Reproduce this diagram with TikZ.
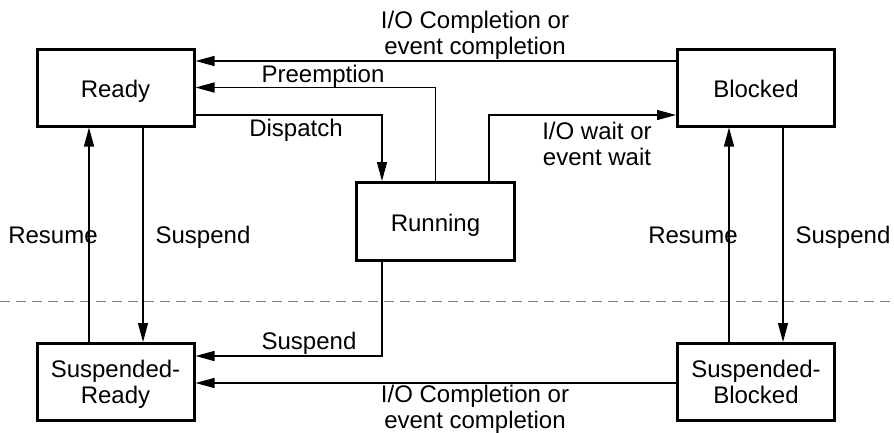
\documentclass[tikz,border=0pt]{standalone}
\usepackage{fontspec}
\setmainfont{Liberation Sans}
\usetikzlibrary{arrows.meta}
\begin{document}
\begin{tikzpicture}[x=1pt,y=-1pt,
  state/.style={draw,line width=3pt,minimum width=157pt,minimum height=77pt,inner sep=0pt,align=center,font=\fontsize{24}{26}\selectfont,text height=19pt,text depth=0pt},
  state2/.style={state,text height=42pt,text depth=0pt},
  arr/.style={line width=1.3pt,-{Triangle[length=19pt,width=10pt]}},
  lbl/.style={inner sep=0pt,align=center,font=\fontsize{24}{26}\selectfont}]
\useasboundingbox (0,0) rectangle (894,432);
\draw[gray,line width=1pt,dash pattern=on 10pt off 6pt] (0,301) -- (894,301);
\node[state] (Ready) at (115.5,87.5) {Ready};
\node[state] (Blocked) at (756,87.5) {Blocked};
\node[state,minimum width=158pt,minimum height=78pt] (Running) at (435.5,221.5) {Running};
\node[state2] (SR) at (115.5,382) {Suspended-\\Ready};
\node[state2] (SB) at (756,382) {Suspended-\\Blocked};
% connectors
\draw[arr] (Blocked.west |- 0,61) -- (Ready.east |- 0,61);
\draw[arr] (Running.north) |- (Ready.east);
\draw[arr] (Ready.east |- 0,115) -| (Running.north -| 382,0);
\draw[arr] (Running.north -| 489,0) |- (Blocked.west |- 0,115);
\draw[arr] (Ready.south -| 143,0) -- (SR.north -| 143,0);
\draw[arr] (SR.north -| 89,0) -- (Ready.south -| 89,0);
\draw[arr] (Running.south -| 382,0) |- (SR.east |- 0,356);
\draw[arr] (SB.west |- 0,383) -- (SR.east |- 0,383);
\draw[arr] (SB.north -| 729,0) -- (Blocked.south -| 729,0);
\draw[arr] (Blocked.south -| 783,0) -- (SB.north -| 783,0);
% labels
\node[lbl] (l1) at (475,35) {I/O Completion or\\event completion};
\node[lbl,anchor=base] (l2) at (323,82) {Preemption};
\node[lbl,anchor=base] (l3) at (296,136) {Dispatch};
\node[lbl] (l4) at (597,144) {I/O wait or\\event wait};
\node[lbl,anchor=base] (l5) at (53,243) {Resume};
\node[lbl,anchor=base] (l6) at (203,243) {Suspend};
\node[lbl,anchor=base] (l7) at (309,349) {Suspend};
\node[lbl] (l8) at (475,409) {I/O Completion or\\event completion};
\node[lbl,anchor=base] (l9) at (693,243) {Resume};
\node[lbl,anchor=base] (l10) at (843,243) {Suspend};
\end{tikzpicture}
\end{document}
